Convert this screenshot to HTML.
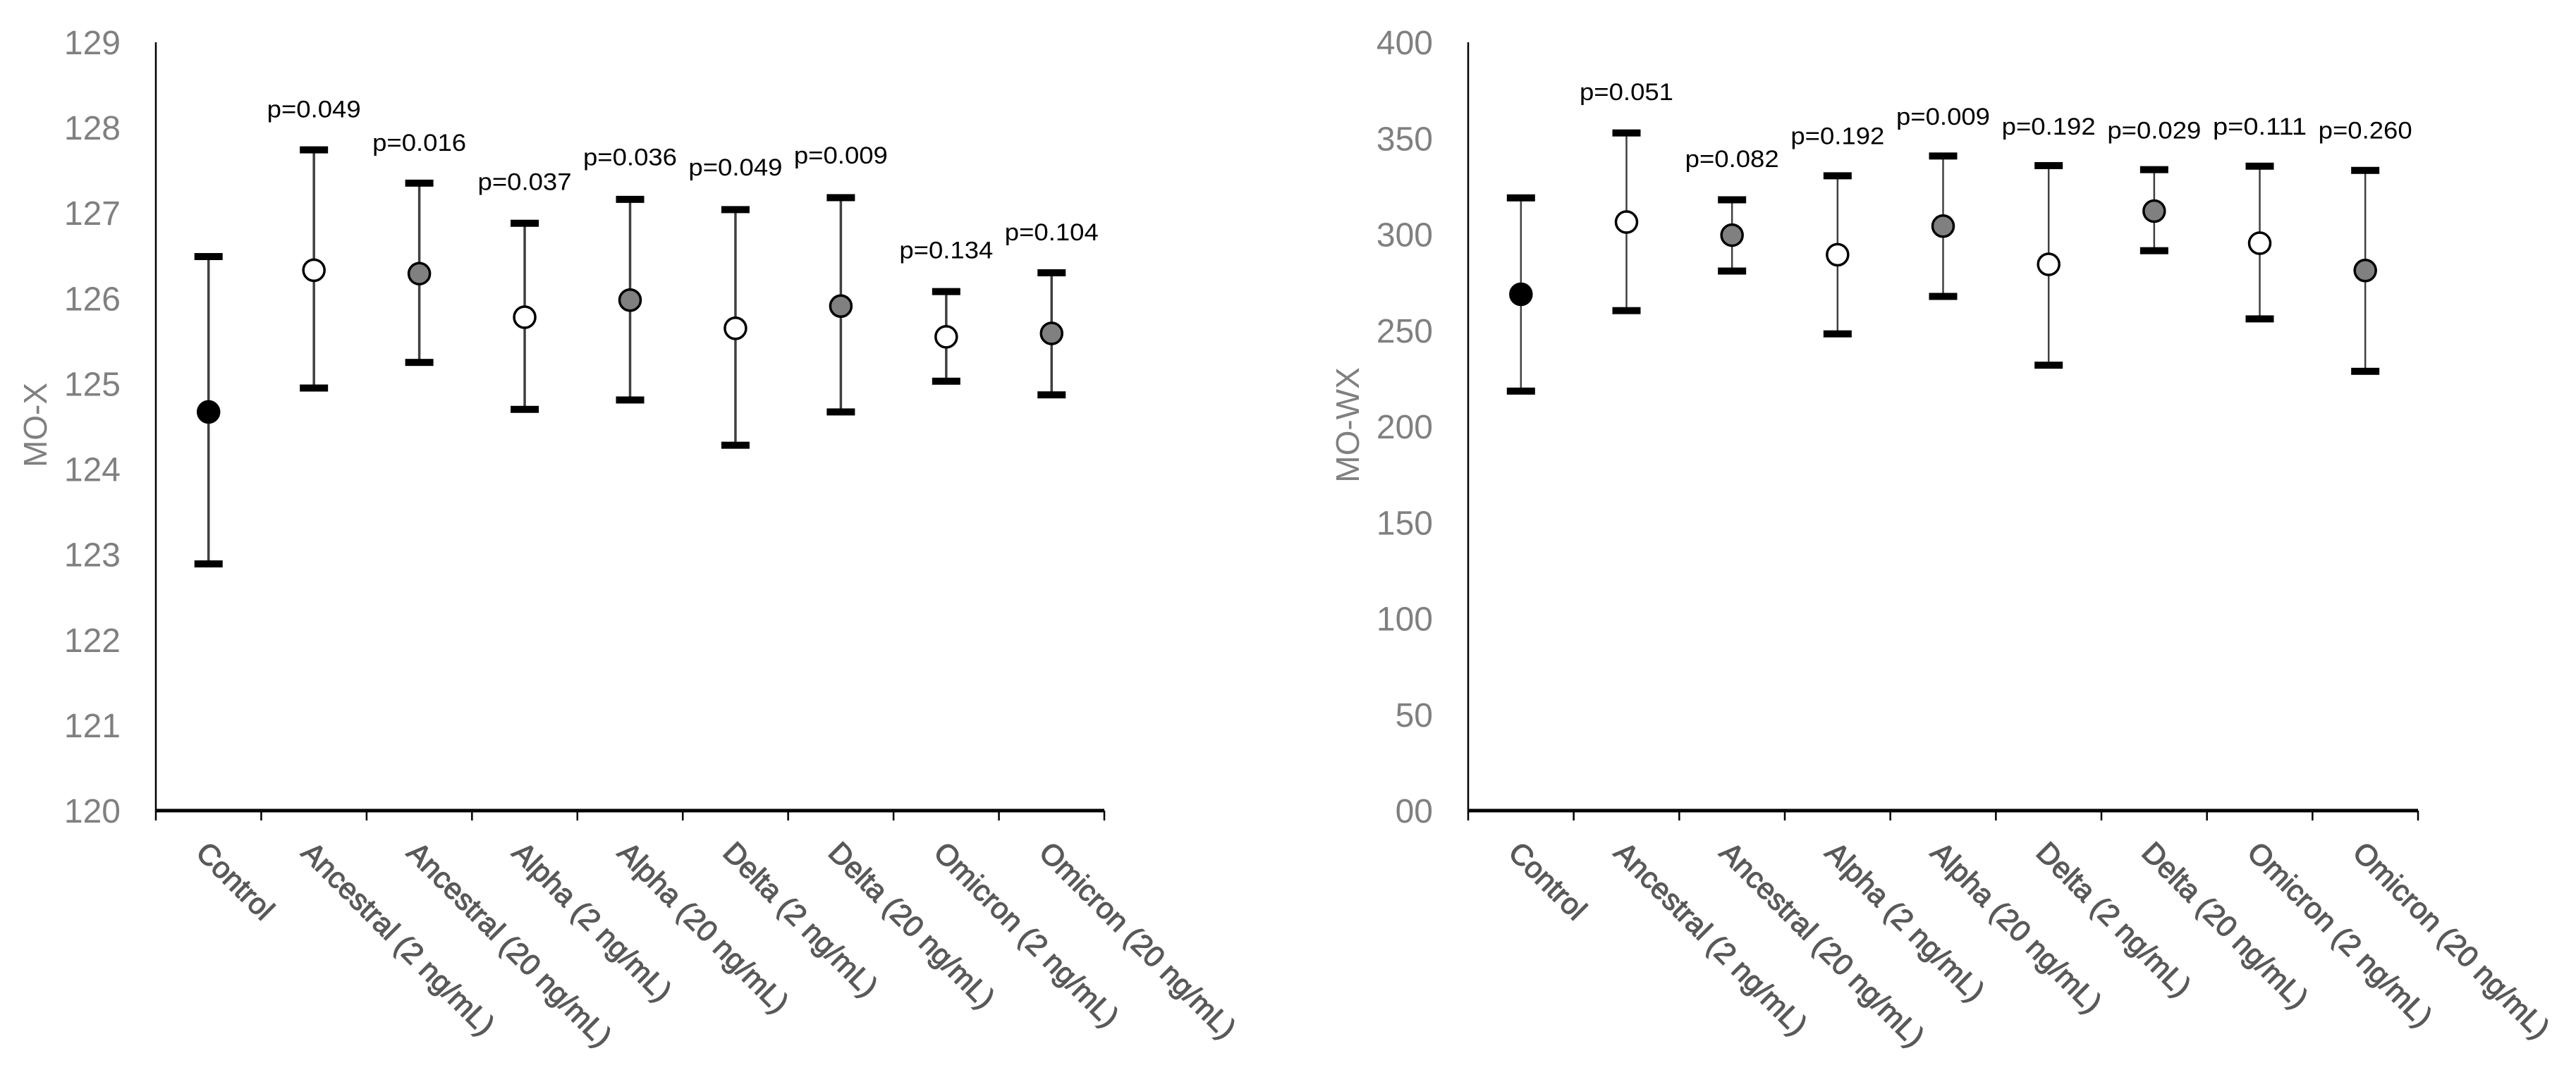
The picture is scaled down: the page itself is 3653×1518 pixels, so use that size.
<!DOCTYPE html>
<html><head><meta charset="utf-8">
<style>
html,body{margin:0;padding:0;background:#fff;}
svg{display:block;}
text{font-family:"Liberation Sans",sans-serif;}
</style></head>
<body>
<svg id="chart" width="3653" height="1518" viewBox="0 0 3653 1518" xmlns="http://www.w3.org/2000/svg"></svg>
<script>
const categories = ["Control","Ancestral (2 ng/mL)","Ancestral (20 ng/mL)","Alpha (2 ng/mL)","Alpha (20 ng/mL)","Delta (2 ng/mL)","Delta (20 ng/mL)","Omicron (2 ng/mL)","Omicron (20 ng/mL)"];
const markerFill = ["#000000","#ffffff","#808080","#ffffff","#808080","#ffffff","#808080","#ffffff","#808080"];

const moxMean  = [124.67,126.33,126.29,125.78,125.98,125.65,125.91,125.55,125.59];
const moxUpper = [126.49,127.74,127.35,126.88,127.16,127.04,127.18,126.08,126.30];
const moxLower = [122.89,124.95,125.25,124.70,124.81,124.28,124.67,125.03,124.87];
const moxP     = ["","p=0.049","p=0.016","p=0.037","p=0.036","p=0.049","p=0.009","p=0.134","p=0.104"];
const moxPLevel= [0,128.12,127.73,127.27,127.56,127.44,127.58,126.47,126.68];
const moxTicks = ["120","121","122","123","124","125","126","127","128","129"];
const moxTickVals = [120,121,122,123,124,125,126,127,128,129];

const mowxMean  = [268.8,306.4,299.6,289.4,304.3,284.4,312.1,295.4,281.2];
const mowxUpper = [319,352.8,318,330.5,340.8,335.8,333.7,335.5,333.3];
const mowxLower = [218.4,260.3,280.9,248.2,267.7,231.9,291.5,256,228.7];
const mowxP     = ["p=0.051","p=0.082","p=0.192","p=0.009","p=0.192","p=0.029","p=0.111","p=0.260"];
const mowxPLevel= [370,335,347,357,352,350,352,350];
const mowxTicks = ["00","50","100","150","200","250","300","350","400"];
const mowxTickVals = [0,50,100,150,200,250,300,350,400];

const NS = "http://www.w3.org/2000/svg";
const svg = document.getElementById("chart");
function mk(tag, attrs, parent){ const e=document.createElementNS(NS,tag); for(const k in attrs) e.setAttribute(k,attrs[k]); (parent||svg).appendChild(e); return e; }

function drawChart(cfg){
  const g = mk("g",{});
  
  
  const x0=cfg.x0, x1=cfg.x1, yTop=60, yBot=1150;
  const yScale = v => yBot - (v-cfg.min)/(cfg.max-cfg.min)*(yBot-yTop);
  const bw = (x1-x0)/categories.length;
  const xScale = i => x0 + bw*(i+0.5);
  const ya = mk("line",{x1:x0,y1:yTop,x2:x0,y2:yBot,stroke:"#000","stroke-width":2.5},g);
  
  
  cfg.tickVals.forEach((v,i)=>{
    const t = mk("text",{x:cfg.labelRight,y:yScale(v)+17,"text-anchor":"end","font-size":48,fill:"#808080"},g);
    t.textContent = cfg.ticks[i];
    
    
  });
  const tt = mk("text",{x:0,y:0,"text-anchor":"middle","font-size":46,fill:"#808080",transform:`translate(${cfg.titleX},603) rotate(-90)`},g);
  tt.textContent = cfg.title;
  
  
  const xa = mk("line",{x1:x0-1,y1:yBot,x2:x1,y2:yBot,stroke:"#000","stroke-width":5},g);
  
  
  for(let i=0;i<=categories.length;i++){
    const tx = x0+bw*i;
    const tk = mk("line",{x1:tx,y1:yBot,x2:tx,y2:yBot+14,stroke:"#000","stroke-width":2.5},g);
    
    
  }
  categories.forEach((c,i)=>{
    const cx = xScale(i);
    const t = mk("text",{x:0,y:0,"font-size":42,fill:"#595959",stroke:"#595959","stroke-width":1.2,transform:`translate(${cx-20},${1212}) rotate(45)`},g);
    t.textContent = c;
    
    
    const yu=yScale(cfg.upper[i]), yl=yScale(cfg.lower[i]), ym=yScale(cfg.mean[i]);
    const el = mk("line",{x1:cx,y1:yu,x2:cx,y2:yl,stroke:"#404040","stroke-width":cfg.lw},g);
    
    
    const cu = mk("rect",{x:cx-20,y:yu-5,width:40,height:10,fill:"#000"},g);
    
    
    const cl = mk("rect",{x:cx-20,y:yl-5,width:40,height:10,fill:"#000"},g);
    
    
    const m = mk("circle",{cx:cx,cy:ym,r:15,fill:markerFill[i],stroke:"#000","stroke-width":3.5},g);
    
    
  });
  cfg.p.forEach((p,j)=>{
    const i = j + cfg.pOffset;
    if(!p) return;
    const t = mk("text",{x:xScale(i),y:yScale(cfg.pLevel[j]),"text-anchor":"middle","font-size":34,fill:"#000",textLength:133,lengthAdjust:"spacingAndGlyphs"},g);
    t.textContent = p;
    
    
  });
}

drawChart({name:"mo-x-chart",x0:221,x1:1566,min:120,max:129,ticks:moxTicks,tickVals:moxTickVals,labelRight:171,title:"MO-X",titleX:66,
  mean:moxMean,upper:moxUpper,lower:moxLower,p:moxP,pLevel:moxPLevel,pOffset:0,lw:3.5});
drawChart({name:"mo-wx-chart",x0:2082,x1:3429,min:0,max:400,ticks:mowxTicks,tickVals:mowxTickVals,labelRight:2032,title:"MO-WX",titleX:1927,
  mean:mowxMean,upper:mowxUpper,lower:mowxLower,p:mowxP,pLevel:mowxPLevel,pOffset:1,lw:2.5});
</script>
</body></html>
